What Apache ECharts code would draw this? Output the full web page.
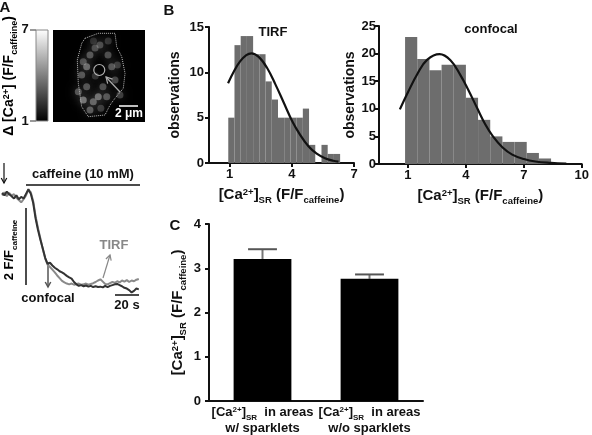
<!DOCTYPE html>
<html><head><meta charset="utf-8">
<script src="https://cdn.jsdelivr.net/npm/echarts@6/dist/echarts.min.js"></script>
<style>html,body{margin:0;padding:0;background:#fff}#c{width:592px;height:435px}</style>
</head><body><div id="c"></div>
<script>
// ---------- DATA ----------
// Panel B, TIRF histogram
const tirfBinStart = 0.93;
const tirfBinWidth = 0.3;
const tirfCounts = [5, 13, 14, 14, 12, 12, 9, 7, 5, 5, 5, 5, 6, 2, 0, 2, 1, 1];
const tirfFitX = [0.92, 1.2, 1.5, 1.8, 2.05, 2.4, 2.8, 3.2, 3.6, 4.0, 4.4, 4.8, 5.2, 5.6, 6.0, 6.25];
const tirfFitY = [8.8, 10.1, 11.2, 11.9, 12.1, 11.7, 10.5, 8.7, 6.7, 4.7, 3.1, 1.85, 1.03, 0.53, 0.25, 0.15];
const tirfTicks = [1, 4, 7];
// Panel B, confocal histogram
const confBinStart = 0.85;
const confBinWidth = 0.63;
const confCounts = [23, 19, 17, 18, 18, 12, 8, 5, 4, 4, 2, 1];
const confFitX = [0.58, 1.0, 1.5, 2.0, 2.64, 3.2, 3.7, 4.1, 4.6, 5.0, 5.4, 5.9, 6.4, 7.0, 7.6, 8.4, 9.2];
const confFitY = [9.9, 13.0, 16.4, 18.9, 19.9, 18.8, 16.2, 13.6, 10.0, 7.2, 5.0, 3.0, 1.7, 0.9, 0.45, 0.2, 0.06];
const confTicks = [1, 4, 7, 10];
// Panel C
const cCategories = ['w/ sparklets', 'w/o sparklets'];
const cMeans = [3.21, 2.76];
const cSEM = [0.22, 0.10];
// Panel A traces (time in s, F/Fcaffeine)
const traceTime = [0,2,4,6,8,10,12,14,16,18,20,22,24,26,28,30,32,34,36,38,40,42,44,46,48,50,52,54,56,58,60,62,64,66,68,70,72,74,76,78,80,82,84,86,88,90,92,94,96,98,100,102,104,106,108,110,112,114];
const traceConfocal = [3.36,3.30,3.40,3.33,3.28,3.22,3.30,3.20,3.26,3.22,3.34,3.46,3.34,3.10,2.70,2.40,2.15,1.92,1.68,1.52,1.55,1.48,1.42,1.38,1.33,1.30,1.26,1.21,1.17,1.14,1.05,0.99,0.95,0.97,0.94,0.96,0.93,0.95,0.92,0.94,0.92,0.93,0.91,0.95,0.92,0.95,0.97,0.99,1.00,0.97,0.94,0.90,0.88,0.84,0.78,0.82,0.88,0.86];
const traceTIRF = [3.30,3.38,3.28,3.36,3.30,3.33,3.24,3.18,3.12,3.20,3.30,3.44,3.38,3.15,2.76,2.45,2.18,1.90,1.66,1.50,1.44,1.37,1.30,1.22,1.15,1.08,1.04,1.01,0.99,1.01,0.98,1.00,1.01,0.98,0.99,1.01,0.98,1.00,1.02,1.05,1.09,1.12,1.06,1.00,0.99,1.02,1.05,1.03,1.07,1.04,1.09,1.06,1.10,1.05,1.09,1.07,1.11,1.13];
// Panel A image: sparklet spots (0-100 image coords) and brightness
const spotX = [51, 40.2, 36.6, 31.2, 59.8, 63.8, 67.4, 54.3, 36.6, 32.9, 43.8, 49.2, 40.2, 27.5, 32.9, 58.4, 45.7, 72.8, 46, 60, 70, 52, 44];
const spotY = [83.7, 72.8, 60.1, 51.1, 72.8, 60.1, 45.7, 38.4, 38.4, 23.9, 22.1, 27.5, 13, 32.9, 65.5, 27.5, 80.4, 29.3, 50, 88, 62, 15, 88];
const spotI = [0.5, 0.6, 0.75, 0.6, 0.55, 0.6, 0.5, 0.55, 0.6, 0.85, 0.7, 0.8, 0.65, 0.6, 0.55, 0.6, 0.5, 0.45, 0.35, 0.35, 0.4, 0.4, 0.3];
const cellOutlineX = [34.8, 49.2, 67.4, 69.2, 74.7, 78.3, 76.4, 67.4, 62.0, 56.5, 38.4, 31.2, 27.5, 26.4, 31.2, 34.8];
const cellOutlineY = [91.0, 96.4, 96.4, 81.8, 71.0, 52.9, 36.6, 25.8, 18.5, 7.6, 5.8, 16.6, 42.1, 67.4, 85.5, 91.0];
const roiX = [50.3], roiY = [56.5];
const colorbarTicks = ['7', '1'];

// ---------- CHART ----------
const FONT = '"Liberation Sans", Arial, Helvetica, sans-serif';
const INK = '#111';
function makeRich(big, small, lh, pad) {
  return {
    b: {fontSize: big, fontWeight: 'bold', fontFamily: FONT, color: INK, lineHeight: lh, verticalAlign: 'top'},
    sup: {fontSize: small, fontWeight: 'bold', fontFamily: FONT, color: INK, lineHeight: small, verticalAlign: 'top'},
    sub: {fontSize: small, fontWeight: 'bold', fontFamily: FONT, color: INK, lineHeight: small, verticalAlign: 'bottom', padding: [pad, 0, 0, 0]}
  };
}
const rich = makeRich(13, 8, 16, 12);
const richBig = makeRich(15, 9.5, 18, 13);
const richMid = makeRich(14, 9, 17, 12);
const caName = '{b|[Ca}{sup|2+}{b|]}{sub|SR}{b| (F/F}{sub|caffeine}{b|)}';

function zip(a, b) { return a.map((v, i) => [v, b[i]]); }
function bins(start, w, counts) { return counts.map((c, i) => [start + i * w, start + (i + 1) * w, c]); }

const lineS = {color: INK, width: 2};
function xAx(grid, extra) {
  return Object.assign({gridIndex: grid, type: 'value', splitLine: {show: false},
    axisLine: {show: true, onZero: false, lineStyle: lineS},
    axisTick: {show: true, length: 4, lineStyle: lineS},
    axisLabel: {color: INK, fontSize: 13, fontWeight: 'bold', fontFamily: FONT, margin: 5}}, extra);
}
function yAx(grid, extra) {
  return Object.assign({gridIndex: grid, type: 'value', splitLine: {show: false},
    axisLine: {show: true, onZero: false, lineStyle: lineS},
    axisTick: {show: true, length: 4, lineStyle: lineS},
    axisLabel: {color: INK, fontSize: 13, fontWeight: 'bold', fontFamily: FONT, margin: 5}}, extra);
}
function histRender(params, api) {
  const p0 = api.coord([api.value(0), api.value(2)]);
  const p1 = api.coord([api.value(1), 0]);
  return {type: 'rect', shape: {x: p0[0], y: p0[1], width: p1[0] - p0[0], height: p1[1] - p0[1]},
    style: {fill: '#6d6d6d'}};
}
function errRender(params, api) {
  const p0 = api.coord([api.value(0), api.value(1)]);
  const p1 = api.coord([api.value(0), api.value(2)]);
  const hw = api.size([1, 0])[0] * 0.135;
  return {type: 'group', children: [
    {type: 'line', shape: {x1: p0[0], y1: p0[1], x2: p1[0], y2: p1[1]}, style: {stroke: '#777', lineWidth: 2}},
    {type: 'line', shape: {x1: p1[0] - hw, y1: p1[1], x2: p1[0] + hw, y2: p1[1]}, style: {stroke: '#555', lineWidth: 2}}
  ]};
}
function txt(x, y, text, opts) {
  return Object.assign({type: 'text', x: x, y: y, style: Object.assign({text: text, fontSize: 13, fontWeight: 'bold',
    fontFamily: FONT, fill: INK, align: 'center', verticalAlign: 'middle'}, opts || {})});
}
function seg(x1, y1, x2, y2, color, w) {
  return {type: 'line', shape: {x1, y1, x2, y2}, style: {stroke: color, lineWidth: w}};
}
function arrow(x1, y1, x2, y2, color, w, hl) {
  const a = Math.atan2(y2 - y1, x2 - x1), hw = hl * 0.55;
  const bx = x2 - hl * Math.cos(a), by = y2 - hl * Math.sin(a);
  const px = -Math.sin(a) * hw, py = Math.cos(a) * hw;
  return [seg(x1, y1, x2, y2, color, w),
    {type: 'polyline', shape: {points: [[bx + px, by + py], [x2, y2], [bx - px, by - py]]}, style: {stroke: color, lineWidth: w, fill: null}}];
}

const graphics = [
  txt(5, 8, 'A', {fontSize: 15}), txt(169, 11, 'B', {fontSize: 15}), txt(175, 226, 'C', {fontSize: 15}),
  txt(273, 32, 'TIRF'), txt(491, 29, 'confocal'),
  // colorbar
  {type: 'rect', shape: {x: 36, y: 30, width: 12, height: 91},
    style: {fill: new echarts.graphic.LinearGradient(0, 0, 0, 1, [{offset: 0, color: '#ffffff'}, {offset: 1, color: '#000000'}]), stroke: '#888', lineWidth: 1}},
  seg(30, 30, 36, 30, '#777', 1.5), seg(30, 121, 36, 121, '#777', 1.5),
  txt(25, 29, colorbarTicks[0], {fontSize: 13}), txt(25, 121, colorbarTicks[1], {fontSize: 13}),
  {type: 'text', x: 11, y: 76, rotation: Math.PI / 2, style: {text: '{b|Δ [Ca}{sup|2+}{b|] (F/F}{sub|caffeine}{b|)}', rich: richMid, align: 'center', verticalAlign: 'middle'}},
  // micrograph annotations
  ...arrow(120, 92, 106, 77, '#aaa', 1.2, 6),
  seg(119, 106, 138, 106, '#fff', 1.5),
  txt(129, 114, '2 μm', {fill: '#fff', fontSize: 12}),
  // trace annotations
  ...arrow(4, 163, 4, 183, INK, 1.2, 5),
  txt(83, 174, 'caffeine (10 mM)'),
  seg(26, 185, 140, 185, INK, 1.5),
  seg(26, 208, 26, 285, INK, 1.5),
  {type: 'text', x: 11, y: 250, rotation: Math.PI / 2, style: {text: '{b|2 F/F}{sub|caffeine}', rich: rich, align: 'center', verticalAlign: 'middle'}},
  txt(114, 245, 'TIRF', {fill: '#888'}),
  ...arrow(103, 278, 110, 255, '#888', 1.2, 5),
  txt(48, 298, 'confocal'),
  ...arrow(48, 262, 48, 287, '#555', 1.5, 5),
  seg(115, 295, 139, 295, INK, 1.5),
  txt(127, 305, '20 s')
];

const option = {
  animation: false,
  backgroundColor: '#fff',
  textStyle: {fontFamily: FONT},
  grid: [
    {left: 209, top: 27, width: 145, height: 136},
    {left: 379, top: 26, width: 209, height: 138},
    {left: 209, top: 224, width: 214, height: 179},
    {left: 2, top: 180, width: 138, height: 115.5},
    {left: 53, top: 30, width: 92, height: 92, show: true, backgroundColor: '#000', borderWidth: 0}
  ],
  xAxis: [
    xAx(0, {min: 0, max: 7, axisTick: {show: true, length: 4, lineStyle: lineS, customValues: tirfTicks},
      axisLabel: {color: INK, fontSize: 13, fontWeight: 'bold', fontFamily: FONT, margin: 5, customValues: tirfTicks},
      name: caName, nameLocation: 'middle', nameGap: 20, nameTextStyle: {rich: richBig}}),
    xAx(1, {min: -0.5, max: 10, axisTick: {show: true, length: 4, lineStyle: lineS, customValues: confTicks},
      axisLabel: {color: INK, fontSize: 13, fontWeight: 'bold', fontFamily: FONT, margin: 5, customValues: confTicks},
      name: caName, nameLocation: 'middle', nameGap: 20, nameTextStyle: {rich: richBig}}),
    {gridIndex: 2, type: 'category', data: cCategories, axisTick: {show: false},
      axisLine: {show: true, lineStyle: lineS},
      axisLabel: {margin: 5, interval: 0, rich: rich,
        formatter: v => '{b|[Ca}{sup|2+}{b|]}{sub|SR}{b|  in areas}\n{b|' + v + '}'}},
    {gridIndex: 3, type: 'value', min: 0, max: 115, show: false},
    {gridIndex: 4, type: 'value', min: 0, max: 100, show: false}
  ],
  yAxis: [
    yAx(0, {min: 0, max: 15, interval: 5, name: 'observations', nameLocation: 'middle', nameGap: 27,
      nameTextStyle: {fontSize: 14, fontWeight: 'bold', color: INK, fontFamily: FONT}}),
    yAx(1, {min: 0, max: 25, interval: 5, name: 'observations', nameLocation: 'middle', nameGap: 20,
      axisLabel: {color: INK, fontSize: 13, fontWeight: 'bold', fontFamily: FONT, margin: 3},
      nameTextStyle: {fontSize: 14, fontWeight: 'bold', color: INK, fontFamily: FONT}}),
    yAx(2, {min: 0, max: 4, interval: 1, name: caName, nameLocation: 'middle', nameGap: 21,
      axisLabel: {color: INK, fontSize: 13, fontWeight: 'bold', fontFamily: FONT, margin: 8},
      nameTextStyle: {rich: richBig}}),
    {gridIndex: 3, type: 'value', min: 0.7, max: 3.7, show: false},
    {gridIndex: 4, type: 'value', min: 0, max: 100, show: false}
  ],
  series: [
    {type: 'custom', xAxisIndex: 0, yAxisIndex: 0, renderItem: histRender, encode: {x: [0, 1], y: 2},
      data: bins(tirfBinStart, tirfBinWidth, tirfCounts), z: 1},
    {type: 'line', xAxisIndex: 0, yAxisIndex: 0, data: zip(tirfFitX, tirfFitY), smooth: 0.4, showSymbol: false,
      lineStyle: {color: INK, width: 2.2}, z: 3},
    {type: 'custom', xAxisIndex: 1, yAxisIndex: 1, renderItem: histRender, encode: {x: [0, 1], y: 2},
      data: bins(confBinStart, confBinWidth, confCounts), z: 1},
    {type: 'line', xAxisIndex: 1, yAxisIndex: 1, data: zip(confFitX, confFitY), smooth: 0.4, showSymbol: false,
      lineStyle: {color: INK, width: 2.2}, z: 3},
    {type: 'bar', xAxisIndex: 2, yAxisIndex: 2, data: cMeans, barWidth: '54%', itemStyle: {color: '#000'}},
    {type: 'custom', xAxisIndex: 2, yAxisIndex: 2, renderItem: errRender, encode: {x: 0, y: [1, 2]},
      data: cMeans.map((m, i) => [i, m, m + cSEM[i]]), z: 1},
    {type: 'line', xAxisIndex: 3, yAxisIndex: 3, data: zip(traceTime, traceTIRF), showSymbol: false,
      lineStyle: {color: '#8a8a8a', width: 2}},
    {type: 'line', xAxisIndex: 3, yAxisIndex: 3, data: zip(traceTime, traceConfocal), showSymbol: false,
      lineStyle: {color: '#333', width: 2}},
    {type: 'scatter', xAxisIndex: 4, yAxisIndex: 4, data: spotX.map((x, i) => [x, spotY[i], spotI[i]]),
      symbolSize: 7,
      itemStyle: {color: p => 'rgba(200,200,200,' + (p.value[2] * 0.75) + ')', shadowBlur: 9, shadowColor: 'rgba(190,190,190,0.9)'}},
    {type: 'line', xAxisIndex: 4, yAxisIndex: 4, data: zip(cellOutlineX, cellOutlineY), showSymbol: false,
      lineStyle: {color: '#bbb', width: 1, type: 'dotted'}, z: 5},
    {type: 'scatter', xAxisIndex: 4, yAxisIndex: 4, data: zip(roiX, roiY), symbol: 'circle', symbolSize: 11,
      itemStyle: {color: 'rgba(0,0,0,0)', borderColor: '#ddd', borderWidth: 1.2}, z: 6}
  ],
  graphic: {elements: graphics}
};
const chart = echarts.init(document.getElementById('c'), null, {renderer: 'canvas'});
chart.setOption(option);
</script></body></html>
